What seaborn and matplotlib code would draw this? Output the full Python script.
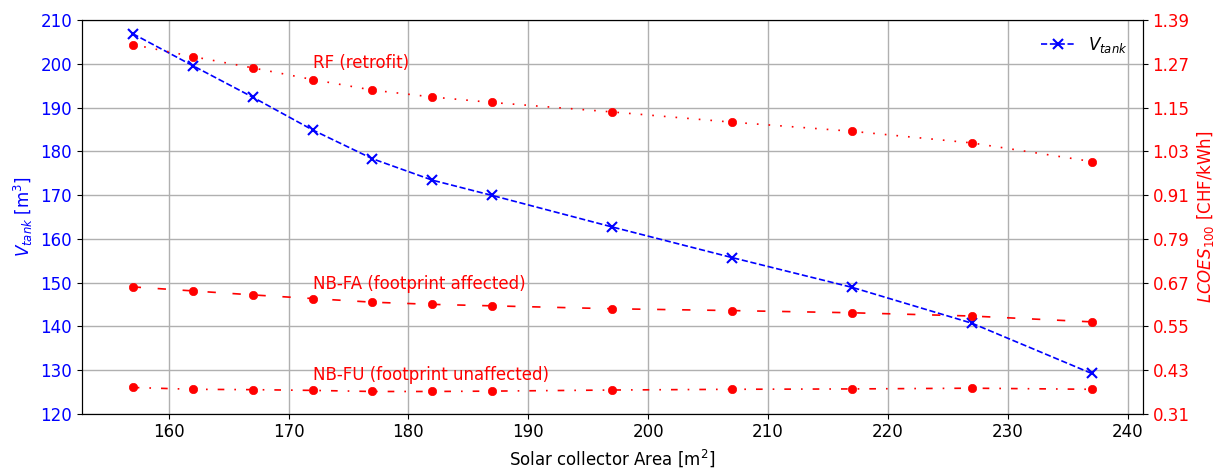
import matplotlib
matplotlib.use("Agg")
import matplotlib.pyplot as plt
import seaborn as sns
import pandas as pd

# ---- data ----
area = [157, 162, 167, 172, 177, 182, 187, 197, 207, 217, 227, 237]
v_tank = [206.9, 199.6, 192.4, 184.9, 178.3, 173.4, 169.9, 162.7, 155.7, 148.9, 140.7, 129.2]
lcoes_rf = [1.323, 1.290, 1.259, 1.227, 1.198, 1.179, 1.164, 1.138, 1.110, 1.085, 1.053, 1.002]
lcoes_nbfa = [0.658, 0.647, 0.636, 0.626, 0.616, 0.610, 0.606, 0.598, 0.593, 0.587, 0.578, 0.562]
lcoes_nbfu = [0.382, 0.377, 0.376, 0.374, 0.371, 0.371, 0.372, 0.375, 0.377, 0.378, 0.380, 0.377]
left_ticks = [120, 130, 140, 150, 160, 170, 180, 190, 200, 210]
right_ticks = [0.31, 0.43, 0.55, 0.67, 0.79, 0.91, 1.03, 1.15, 1.27, 1.39]
x_ticks = [160, 170, 180, 190, 200, 210, 220, 230, 240]
labels = ["RF (retrofit)", "NB-FA (footprint affected)", "NB-FU (footprint unaffected)"]
label_pos = [(172, 198.2), (172, 147.6), (172, 126.7)]

df = pd.DataFrame({"area": area, "v": v_tank, "rf": lcoes_rf, "fa": lcoes_nbfa, "fu": lcoes_nbfu})

plt.rcParams["font.size"] = 12
fig = plt.figure(figsize=(12.22, 4.68), dpi=100)
ax1 = fig.add_axes([0.0669, 0.1160, 0.8682, 0.8410])
ax2 = ax1.twinx()

sns.lineplot(data=df, x="area", y="v", ax=ax1, color="blue", marker="x",
             linestyle="--", markersize=7, markeredgewidth=1.5, markeredgecolor="blue",
             linewidth=1.2, label="$V_{tank}$")
red_kw = dict(color="red", marker="o", markersize=6, markeredgewidth=0.5,
              markeredgecolor="red", linewidth=1.2)
sns.lineplot(data=df, x="area", y="rf", ax=ax2, linestyle=(0, (1, 6)), **red_kw)
sns.lineplot(data=df, x="area", y="fa", ax=ax2, linestyle=(0, (5, 10)), **red_kw)
sns.lineplot(data=df, x="area", y="fu", ax=ax2, linestyle=(0, (4, 6, 1, 6)), **red_kw)

ax1.set_ylim(120, 210)
ax1.set_yticks(left_ticks)
ax2.set_ylim(0.31, 1.39)
ax2.set_yticks(right_ticks)
ax2.set_yticklabels([f"{t:.2f}" for t in right_ticks])
ax1.set_xticks(x_ticks)
ax1.set_xlim(152.75, 241.25)

ax1.grid(True, color="#b0b0b0", linewidth=1.0)
ax1.set_axisbelow(True)
ax1.tick_params(axis="y", labelcolor="blue")
ax2.tick_params(axis="y", labelcolor="red")

ax1.set_xlabel("Solar collector Area [m$^2$]")
ax1.set_ylabel("$V_{tank}$ [m$^3$]", color="blue")
ax2.set_ylabel("$LCOES_{100}$ [CHF/kWh]", color="red")

for txt, (tx, ty) in zip(labels, label_pos):
    ax1.text(tx, ty, txt, color="red", fontsize=12, va="bottom", ha="left")

ax1.legend(loc="upper right", frameon=False, fontsize=12)

fig.savefig("out.png", dpi=100)
